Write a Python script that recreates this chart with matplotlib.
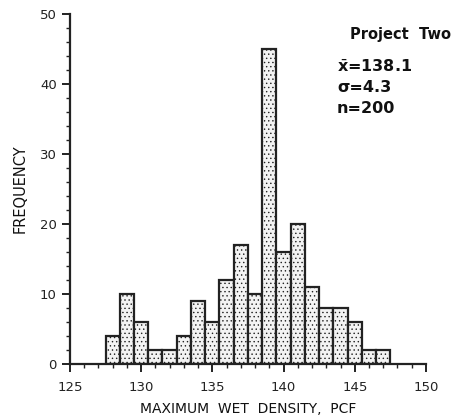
import matplotlib
matplotlib.use("Agg")
import matplotlib.pyplot as plt
from matplotlib.ticker import MultipleLocator

bin_left = [127.5 + i for i in range(20)]
freq = [4, 10, 6, 2, 2, 4, 9, 6, 12, 17, 10, 45, 16, 20, 11, 8, 8, 6, 2, 2]
xticks = [125, 130, 135, 140, 145, 150]
yticks = [0, 10, 20, 30, 40, 50]

plt.rcParams['font.family'] = ['DejaVu Sans']
plt.rcParams['hatch.color'] = '#b8b8b8'
plt.rcParams['hatch.linewidth'] = 0.5

fig = plt.figure(figsize=(4.63, 4.2), dpi=100)
ax = fig.add_axes([0.151, 0.1333, 0.769, 0.8334])

ax.bar(bin_left, freq, width=1.0, align='edge', facecolor='#f3f3f3',
       edgecolor='#222222', linewidth=1.6, hatch='....', zorder=2)

ax.set_xlim(125, 150)
ax.set_ylim(0, 50)
ax.set_xticks(xticks)
ax.set_yticks(yticks)
ax.xaxis.set_minor_locator(MultipleLocator(1))
ax.yaxis.set_minor_locator(MultipleLocator(2))
for s in ['top', 'right']:
    ax.spines[s].set_visible(False)
for s in ['left', 'bottom']:
    ax.spines[s].set_linewidth(1.6)
    ax.spines[s].set_color('#222222')
ax.tick_params(which='major', length=6, width=1.4, labelsize=9.5, colors='#222222')
ax.tick_params(which='minor', length=3, width=1.0, colors='#222222')
ax.tick_params(axis='x', pad=6)

ax.set_xlabel('MAXIMUM  WET  DENSITY,  PCF', fontsize=10, labelpad=6, color='#111111')
ax.set_ylabel('FREQUENCY', fontsize=10.5, labelpad=9, color='#111111')

fig.text(0.755, 0.908, 'Project  Two', fontsize=10.5, fontweight='bold', color='#111111')
fig.text(0.728, 0.828, r'$\bar{\mathbf{x}}$' + '=138.1', fontsize=11.5, fontweight='bold', color='#111111')
fig.text(0.728, 0.780, 'σ=4.3', fontsize=11.5, fontweight='bold', color='#111111')
fig.text(0.728, 0.732, 'n=200', fontsize=11.5, fontweight='bold', color='#111111')

fig.savefig('out.png', dpi=100)
